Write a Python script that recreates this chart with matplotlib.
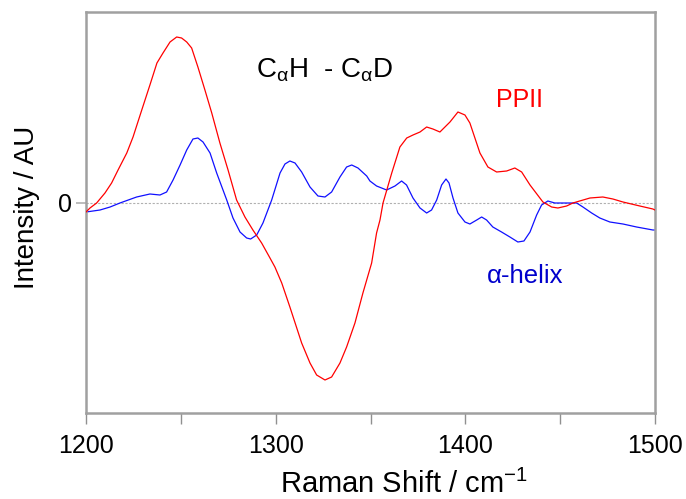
import matplotlib
matplotlib.use("Agg")
import matplotlib.pyplot as plt

plt.rcParams['font.family'] = ['Liberation Sans', 'DejaVu Sans']
plt.rcParams['mathtext.fontset'] = 'custom'
plt.rcParams['mathtext.rm'] = 'Liberation Sans'
plt.rcParams['mathtext.it'] = 'Liberation Sans'
plt.rcParams['mathtext.bf'] = 'Liberation Sans:bold'

# PPII difference spectrum (Raman shift / cm-1, intensity in arbitrary units)
ppii_x = [1200.0, 1202.1, 1205.6, 1210.0, 1213.5, 1216.9, 1221.5, 1224.8, 1229.4, 1233.7,
          1237.4, 1240.6, 1244.3, 1247.8, 1250.4, 1253.1, 1255.7, 1259.0, 1262.7, 1266.3,
          1270.6, 1274.9, 1279.4, 1283.8, 1288.0, 1292.6, 1297.0, 1299.6, 1303.2, 1307.5,
          1313.7, 1318.1, 1321.6, 1326.0, 1329.5, 1333.9, 1337.4, 1341.8, 1346.0, 1350.6,
          1353.2, 1355.0, 1356.6, 1361.2, 1365.5, 1369.1, 1372.4, 1376.1, 1379.6, 1382.9,
          1386.6, 1391.9, 1396.1, 1399.8, 1402.4, 1407.7, 1411.9, 1416.5, 1421.8, 1426.1,
          1429.7, 1434.1, 1440.9, 1445.5, 1448.8, 1453.4, 1456.7, 1465.7, 1472.5, 1477.8,
          1483.1, 1492.0, 1498.9, 1500.0]
ppii_y = [-0.09, -0.05, 0.00, 0.10, 0.20, 0.33, 0.50, 0.66, 0.93, 1.18,
          1.40, 1.50, 1.61, 1.66, 1.65, 1.61, 1.55, 1.36, 1.13, 0.90,
          0.60, 0.33, 0.03, -0.14, -0.27, -0.40, -0.55, -0.64, -0.80, -1.04,
          -1.40, -1.60, -1.72, -1.77, -1.74, -1.60, -1.44, -1.20, -0.90, -0.60,
          -0.30, -0.17, 0.00, 0.30, 0.56, 0.65, 0.68, 0.71, 0.76, 0.74,
          0.71, 0.81, 0.91, 0.88, 0.80, 0.50, 0.36, 0.31, 0.32, 0.35,
          0.31, 0.18, 0.01, -0.04, -0.05, -0.03, 0.00, 0.05, 0.06, 0.04,
          0.01, -0.03, -0.06, -0.07]

# alpha-helix difference spectrum
helix_x = [1200.0, 1207.4, 1212.7, 1217.9, 1226.7, 1233.7, 1239.0, 1242.5, 1245.9, 1249.6,
           1253.1, 1256.4, 1259.0, 1261.7, 1265.4, 1268.9, 1274.2, 1277.5, 1281.2, 1284.7,
           1286.8, 1290.0, 1293.3, 1297.9, 1302.3, 1304.9, 1307.5, 1310.2, 1313.7, 1318.1,
           1322.3, 1326.0, 1329.5, 1333.9, 1337.4, 1340.1, 1343.4, 1348.0, 1349.7, 1353.2,
           1358.5, 1362.9, 1366.4, 1369.0, 1372.4, 1376.1, 1379.6, 1382.2, 1384.9, 1387.5,
           1389.8, 1391.4, 1393.5, 1396.1, 1399.8, 1402.4, 1406.0, 1408.6, 1411.2, 1414.5,
           1419.1, 1423.5, 1427.7, 1430.9, 1434.1, 1437.6, 1440.2, 1443.5, 1447.2, 1450.8,
           1458.7, 1462.0, 1466.6, 1470.9, 1476.2, 1483.1, 1490.3, 1498.9, 1500.0]
helix_y = [-0.09, -0.07, -0.04, 0.00, 0.06, 0.09, 0.08, 0.11, 0.23, 0.38,
           0.53, 0.64, 0.65, 0.61, 0.50, 0.30, 0.03, -0.15, -0.29, -0.35,
           -0.36, -0.32, -0.20, 0.03, 0.30, 0.39, 0.42, 0.40, 0.31, 0.16,
           0.07, 0.06, 0.11, 0.26, 0.36, 0.38, 0.35, 0.27, 0.22, 0.17,
           0.13, 0.17, 0.22, 0.18, 0.05, -0.05, -0.10, -0.07, 0.03, 0.18,
           0.24, 0.20, 0.05, -0.10, -0.19, -0.21, -0.17, -0.14, -0.17, -0.24,
           -0.29, -0.34, -0.39, -0.38, -0.29, -0.12, -0.02, 0.02, 0.00, 0.00,
           0.00, -0.04, -0.10, -0.15, -0.19, -0.21, -0.24, -0.27, -0.27]

x_ticks = [1200, 1300, 1400, 1500]
x_minor = [1250, 1350, 1450]
y_ticks = [0]

W, H = 686, 499
fig = plt.figure(figsize=(W / 100, H / 100), dpi=100)
ax = fig.add_axes([86 / W, 1 - 413 / H, (655 - 86) / W, (413 - 12) / H])

ax.axhline(0, color='#b0b0b0', lw=0.8, ls=(0, (2, 1.5)), zorder=1)
ax.plot(ppii_x, ppii_y, color='#ff0000', lw=0.9, zorder=3, solid_joinstyle='round')
ax.plot(helix_x, helix_y, color='#1010ff', lw=0.9, zorder=2, solid_joinstyle='round')

ax.set_xlim(1200, 1500)
ax.set_ylim(-2.10, 1.91)
ax.set_xticks(x_ticks)
ax.set_xticks(x_minor, minor=True)
ax.set_yticks(y_ticks)
ax.set_yticklabels(['0'])

for s in ax.spines.values():
    s.set_color('#a0a0a0')
    s.set_linewidth(1.8)

ax.tick_params(axis='x', which='both', direction='out', length=8, width=1.0,
               color='#909090', labelsize=18, pad=7)
ax.tick_params(axis='y', direction='out', length=7, width=1.2,
               color='#b0b0b0', labelsize=18, pad=3)

fig.text(404 / W, 1 - 484 / H, r'Raman Shift / cm$^{-1}$', ha='center', va='center',
         fontsize=21)
fig.text(27 / W, 1 - 207 / H, 'Intensity / AU', ha='center', va='center',
         rotation=90, fontsize=20)

fig.text(325 / W, 1 - 70 / H, r'C$_{\mathrm{\alpha}}$H  - C$_{\mathrm{\alpha}}$D',
         ha='center', va='center', fontsize=20)
fig.text(519 / W, 1 - 100 / H, 'PPII', ha='center', va='center', fontsize=18,
         color='#ff0000')
fig.text(525 / W, 1 - 276 / H, 'α-helix', ha='center', va='center', fontsize=18.5,
         color='#0000cc')

fig.savefig('out.png', dpi=100)
